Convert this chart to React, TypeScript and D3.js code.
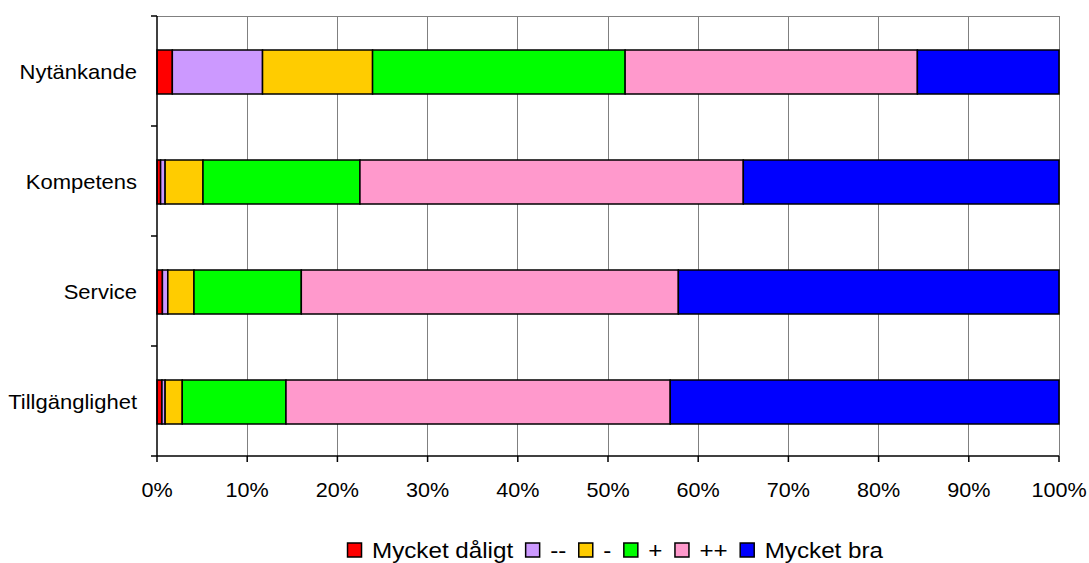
import * as React from "react";
import * as d3 from "d3";

const categories = ["Nytänkande", "Kompetens", "Service", "Tillgänglighet"];
const seriesNames = ["Mycket dåligt", "--", "-", "+", "++", "Mycket bra"];
const seriesColors = ["#FF0000", "#CC99FF", "#FFCC00", "#00FF00", "#FF99CC", "#0000FF"];

// percent share per category, in series order
const mycketDaligt = [1.7, 0.4, 0.6, 0.55];
const minusMinus = [10.0, 0.5, 0.6, 0.35];
const minus = [12.2, 4.2, 2.9, 1.9];
const plus = [28.0, 17.4, 11.9, 11.5];
const plusPlus = [32.4, 42.5, 41.8, 42.6];
const mycketBra = [15.7, 35.0, 42.2, 43.1];

const xTicks = [0, 10, 20, 30, 40, 50, 60, 70, 80, 90, 100];

const FONT = "Liberation Sans, Arial, sans-serif";

export default function App() {
  const svgRef = React.useRef<SVGSVGElement>(null);

  React.useEffect(() => {
    if (!svgRef.current) return;
    const width = 1089;
    const height = 563;
    const margin = { top: 16, right: 30, bottom: 107, left: 157 };
    const plotW = width - margin.left - margin.right;
    const plotH = height - margin.top - margin.bottom;

    const svg = d3.select(svgRef.current);
    svg.selectAll("*").remove();
    svg.attr("width", width).attr("height", height);

    const g = svg.append("g")
      .attr("transform", "translate(" + margin.left + "," + margin.top + ")");

    const x = d3.scaleLinear().domain([0, 100]).range([0, plotW]);
    const y = d3.scaleBand().domain(categories).range([1, plotH + 1]).paddingInner(0.6).paddingOuter(0.3);
    const yBounds = d3.scaleLinear().domain([0, categories.length]).range([0, plotH]);

    // grid
    g.append("g")
      .selectAll("line")
      .data(xTicks.slice(1))
      .enter().append("line")
      .attr("x1", d => x(d)).attr("x2", d => x(d))
      .attr("y1", 0).attr("y2", plotH)
      .attr("stroke", "#808080").attr("stroke-width", 1)
      .attr("shape-rendering", "crispEdges");
    g.append("line")
      .attr("x1", 0).attr("x2", plotW).attr("y1", 0).attr("y2", 0)
      .attr("stroke", "#808080").attr("shape-rendering", "crispEdges");

    // bars
    const rows = categories.map((c, i) => {
      const vals = [mycketDaligt[i], minusMinus[i], minus[i], plus[i], plusPlus[i], mycketBra[i]];
      const total = d3.sum(vals);
      let acc = 0;
      return vals.map((v, k) => {
        const x0 = acc / total * 100;
        acc += v;
        return { cat: c, k, x0, x1: acc / total * 100 };
      });
    }).flat();

    g.append("g")
      .selectAll("rect")
      .data(rows)
      .enter().append("rect")
      .attr("x", d => x(d.x0))
      .attr("width", d => x(d.x1) - x(d.x0))
      .attr("y", d => y(d.cat)!)
      .attr("height", y.bandwidth())
      .attr("fill", d => seriesColors[d.k])
      .attr("stroke", "#000")
      .attr("stroke-width", 1.5);

    // axes
    g.append("line")
      .attr("x1", 0).attr("x2", 0).attr("y1", 0).attr("y2", plotH)
      .attr("stroke", "#000").attr("stroke-width", 1.5);
    g.append("line")
      .attr("x1", -6).attr("x2", plotW).attr("y1", plotH).attr("y2", plotH)
      .attr("stroke", "#000").attr("stroke-width", 1.5);
    g.append("g")
      .selectAll("line")
      .data(d3.range(categories.length))
      .enter().append("line")
      .attr("x1", -6).attr("x2", 0)
      .attr("y1", d => yBounds(d)).attr("y2", d => yBounds(d))
      .attr("stroke", "#000").attr("stroke-width", 1.5);
    g.append("g")
      .selectAll("line")
      .data(xTicks)
      .enter().append("line")
      .attr("x1", d => x(d)).attr("x2", d => x(d))
      .attr("y1", plotH).attr("y2", plotH + 6)
      .attr("stroke", "#000").attr("stroke-width", 1.5);

    // text is drawn slightly wide, as in the original
    g.append("g")
      .selectAll("text")
      .data(xTicks)
      .enter().append("text")
      .attr("transform", d => "translate(" + x(d) + "," + (plotH + 41) + ") scale(1.08,1)")
      .attr("text-anchor", "middle")
      .attr("font-family", FONT)
      .attr("font-size", 20)
      .text(d => d + "%");

    g.append("g")
      .selectAll("text")
      .data(categories)
      .enter().append("text")
      .attr("transform", d => "translate(-20," + (y(d)! + y.bandwidth() / 2 + 7) + ") scale(1.1,1)")
      .attr("text-anchor", "end")
      .attr("font-family", FONT)
      .attr("font-size", 20)
      .text(d => d);

    // legend
    const legend = svg.append("g");
    let cx = 0;
    seriesNames.forEach((name, k) => {
      const item = legend.append("g").attr("transform", "translate(" + cx + ",0)");
      item.append("rect")
        .attr("x", 0.5).attr("y", -15).attr("width", 14).attr("height", 14)
        .attr("fill", seriesColors[k]).attr("stroke", "#000").attr("stroke-width", 1.5);
      const t = item.append("text")
        .attr("transform", "translate(25,0) scale(1.1,1)")
        .attr("font-family", FONT)
        .attr("font-size", 22)
        .text(name);
      const tw = (t.node() as SVGTextElement).getComputedTextLength() * 1.1;
      cx += 25 + tw + 12;
    });
    const legendW = cx - 12;
    legend.attr("transform", "translate(" + (615 - legendW / 2) + ",558)");
  }, []);

  return (
    <div style={{ position: "absolute", left: 0, top: 0 }}>
      <svg ref={svgRef} style={{ display: "block" }} />
    </div>
  );
}
